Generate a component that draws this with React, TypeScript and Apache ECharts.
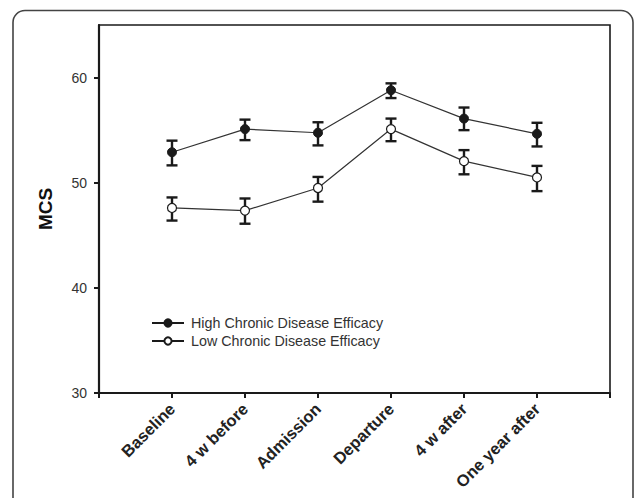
import React, { useEffect, useRef } from "react";
import * as echarts from "echarts";

const categories = ["Baseline", "4 w before", "Admission", "Departure", "4 w after", "One year after"];
const highMean = [52.9, 55.1, 54.75, 58.8, 56.1, 54.65];
const highLow = [51.65, 54.05, 53.55, 58.05, 55.0, 53.45];
const highHigh = [54.0, 56.0, 55.75, 59.45, 57.15, 55.7];
const lowMean = [47.6, 47.35, 49.5, 55.1, 52.05, 50.5];
const lowLow = [46.4, 46.1, 48.2, 53.95, 50.8, 49.2];
const lowHigh = [48.6, 48.5, 50.55, 56.1, 53.1, 51.6];
const yTicks = [30, 40, 50, 60];
const seriesNames = ["High Chronic Disease Efficacy", "Low Chronic Disease Efficacy"];

const FONT = "Liberation Sans, Arial, sans-serif";

function errRender(params: any, api: any) {
  const x = api.value(0);
  const lo = api.coord([x, api.value(1)]);
  const hi = api.coord([x, api.value(2)]);
  const hw = 5.5;
  const style = { stroke: "#1a1a1a", lineWidth: 2.4 };
  return {
    type: "group",
    children: [
      { type: "line", shape: { x1: lo[0], y1: lo[1], x2: hi[0], y2: hi[1] }, style },
      { type: "line", shape: { x1: lo[0] - hw, y1: lo[1], x2: lo[0] + hw, y2: lo[1] }, style },
      { type: "line", shape: { x1: hi[0] - hw, y1: hi[1], x2: hi[0] + hw, y2: hi[1] }, style },
    ],
  };
}

export default function App() {
  const ref = useRef<HTMLDivElement>(null);
  useEffect(() => {
    if (!ref.current) return;
    const chart = echarts.init(ref.current, null, { renderer: "svg" });
    const highData = highMean.map((v, i) => [i + 1, v]);
    const lowData = lowMean.map((v, i) => [i + 1, v]);
    const highErr = highMean.map((_, i) => [i + 1, highLow[i], highHigh[i]]);
    const lowErr = lowMean.map((_, i) => [i + 1, lowLow[i], lowHigh[i]]);
    chart.setOption({
      animation: false,
      backgroundColor: "#fff",
      textStyle: { fontFamily: FONT },
      graphic: [
        {
          type: "rect",
          shape: { x: 13, y: 10.5, width: 620, height: 540, r: 12 },
          style: { fill: "none", stroke: "#444", lineWidth: 1.6 },
          silent: true,
        },
      ],
      grid: {
        left: 99,
        top: 25,
        right: 24,
        bottom: 105,
        show: true,
        borderColor: "#1a1a1a",
        borderWidth: 1.6,
      },
      legend: {
        left: 151,
        top: 316,
        padding: 0,
        orient: "vertical",
        itemWidth: 32,
        itemHeight: 9,
        itemGap: 4,
        data: seriesNames,
        textStyle: { fontFamily: FONT, fontSize: 14.3, color: "#333", padding: [0, 0, 0, 2] },
        lineStyle: { width: 2, color: "#1a1a1a" },
      },
      xAxis: {
        type: "value",
        min: 0,
        max: 7,
        interval: 1,
        splitLine: { show: false },
        axisLine: { show: true, lineStyle: { color: "#1a1a1a", width: 2.2 } },
        axisTick: { show: true, length: 5, lineStyle: { color: "#1a1a1a", width: 2 } },
        axisLabel: {
          rotate: 45,
          margin: 13,
          fontFamily: FONT,
          fontSize: 16.5,
          fontWeight: "bold",
          color: "#222",
          formatter: (v: number) => (v >= 1 && v <= categories.length ? categories[v - 1] : ""),
        },
      },
      yAxis: {
        type: "value",
        min: 30,
        max: 65,
        interval: 10,
        name: "MCS",
        nameLocation: "middle",
        nameGap: 44,
        nameTextStyle: { fontFamily: FONT, fontSize: 19, fontWeight: "bold", color: "#111" },
        splitLine: { show: false },
        axisLine: { show: true, lineStyle: { color: "#1a1a1a", width: 2.2 } },
        axisTick: { show: true, length: 5, lineStyle: { color: "#1a1a1a", width: 2 }, customValues: yTicks },
        axisLabel: {
          margin: 12,
          fontFamily: FONT,
          fontSize: 14,
          color: "#333",
          customValues: yTicks,
        },
      },
      series: [
        {
          type: "custom",
          renderItem: errRender,
          data: highErr,
          z: 2,
          silent: true,
        },
        {
          type: "custom",
          renderItem: errRender,
          data: lowErr,
          z: 2,
          silent: true,
        },
        {
          name: seriesNames[0],
          type: "line",
          data: highData,
          symbol: "circle",
          symbolSize: 9,
          z: 5,
          lineStyle: { color: "#333", width: 1.2 },
          itemStyle: { color: "#1a1a1a", borderColor: "#1a1a1a", borderWidth: 1 },
        },
        {
          name: seriesNames[1],
          type: "line",
          data: lowData,
          symbol: "circle",
          symbolSize: 9,
          z: 5,
          lineStyle: { color: "#333", width: 1.2 },
          itemStyle: { color: "#fff", borderColor: "#1a1a1a", borderWidth: 1.2 },
        },
      ],
    });
    return () => chart.dispose();
  }, []);
  return <div ref={ref} style={{ position: "fixed", left: 0, top: 0, width: 634, height: 498 }} />;
}
